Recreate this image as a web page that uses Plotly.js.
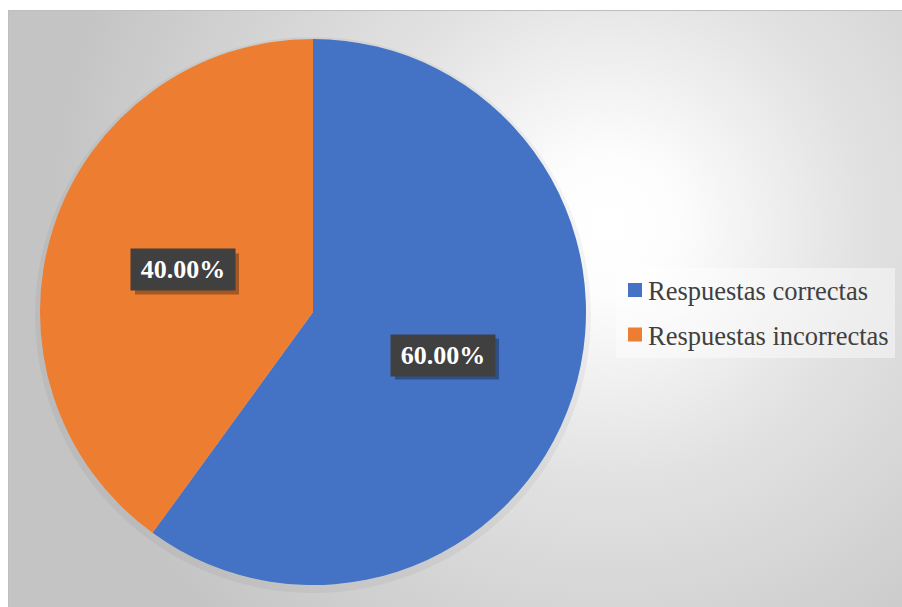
<!DOCTYPE html>
<html>
<head>
<meta charset="utf-8">
<script src="https://cdn.plot.ly/plotly-3.0.1.min.js"></script>
<style>html,body{margin:0;padding:0;background:#fff;}#chart{width:902px;height:607px;}</style>
</head>
<body>
<div id="chart"></div>
<script>
const categories = ["Respuestas correctas", "Respuestas incorrectas"];
const values = [60, 40];
const colors = ["#4472C4", "#ED7D31"];

const total = values.reduce((a, b) => a + b, 0);
const pctLabels = values.map(v => (v / total * 100).toFixed(2) + "%");

const W = 902, H = 607;
const px = x => x / W;
const py = y => 1 - y / H;
const SERIF = 'Liberation Serif, Times New Roman, serif';

const svg = '<svg xmlns="http://www.w3.org/2000/svg" width="894" height="597" viewBox="0 0 894 597">' +
  '<defs><radialGradient id="g" gradientUnits="userSpaceOnUse" cx="600" cy="215" r="560">' +
  '<stop offset="0" stop-color="#ffffff"/><stop offset="0.12" stop-color="#fdfdfd"/>' +
  '<stop offset="0.45" stop-color="#e2e2e2"/><stop offset="0.8" stop-color="#cfcfcf"/>' +
  '<stop offset="1" stop-color="#c4c4c4"/></radialGradient></defs>' +
  '<rect width="894" height="597" fill="url(#g)"/></svg>';
const bgSrc = 'data:image/svg+xml;charset=utf-8,' + encodeURIComponent(svg);

const labelPos = [[443, 355], [183, 270]];
const annotations = [];
const shapes = [
  {type: 'rect', xref: 'paper', yref: 'paper', x0: px(8.5), x1: px(905), y0: py(10.5), y1: py(610),
   line: {color: '#bfbfbf', width: 1}, fillcolor: 'rgba(0,0,0,0)', layer: 'below'},
  {type: 'circle', xref: 'paper', yref: 'paper', x0: px(35), x1: px(591), y0: py(593), y1: py(37),
   line: {width: 0}, fillcolor: 'rgba(0,0,0,0.045)', layer: 'below'},
  // legend background
  {type: 'rect', xref: 'paper', yref: 'paper', x0: px(616), x1: px(895), y0: py(268), y1: py(358),
   line: {width: 0}, fillcolor: 'rgba(255,255,255,0.45)', layer: 'below'}
];

pctLabels.forEach((t, i) => {
  const [cx, cy] = labelPos[i];
  shapes.push({type: 'rect', xref: 'paper', yref: 'paper',
    x0: px(cx - 52 + 4), x1: px(cx + 52 + 4), y0: py(cy - 20.5 + 4), y1: py(cy + 20.5 + 4),
    line: {width: 0}, fillcolor: 'rgba(0,0,0,0.3)', layer: 'above'});
  annotations.push({
    xref: 'paper', yref: 'paper', x: px(cx), y: py(cy), xanchor: 'center', yanchor: 'middle',
    text: '<b>' + t + '</b>', showarrow: false, bgcolor: '#404040',
    width: 100, height: 37, borderpad: 2,
    font: {family: SERIF, size: 26, color: '#ffffff'}
  });
});

// legend (manual, for exact spacing)
const legendY = [290, 334.5];
categories.forEach((c, i) => {
  shapes.push({type: 'rect', xref: 'paper', yref: 'paper',
    x0: px(628), x1: px(642), y0: py(legendY[i] + 7), y1: py(legendY[i] - 7),
    line: {width: 0}, fillcolor: colors[i], layer: 'above'});
  annotations.push({
    xref: 'paper', yref: 'paper', x: px(647), y: py(legendY[i] + 1), xanchor: 'left', yanchor: 'middle',
    text: c, showarrow: false, borderpad: 0,
    font: {family: SERIF, size: 26.5, color: '#404040'}
  });
});

const data = [{
  type: 'pie',
  labels: categories,
  values: values,
  sort: false,
  direction: 'clockwise',
  rotation: 0,
  marker: {colors: colors, line: {width: 0}},
  textinfo: 'none',
  hoverinfo: 'label+percent',
  domain: {x: [px(40), px(586)], y: [py(585), py(39)]}
}];

const layout = {
  width: W, height: H,
  margin: {l: 0, r: 0, t: 0, b: 0},
  paper_bgcolor: '#ffffff',
  showlegend: false,
  images: [{
    source: bgSrc, xref: 'paper', yref: 'paper',
    x: px(8), y: py(10), sizex: (W - 8) / W, sizey: (H - 10) / H,
    xanchor: 'left', yanchor: 'top', sizing: 'stretch', layer: 'below'
  }],
  shapes: shapes,
  annotations: annotations
};

Plotly.newPlot('chart', data, layout, {displayModeBar: false, staticPlot: true});
</script>
</body>
</html>
